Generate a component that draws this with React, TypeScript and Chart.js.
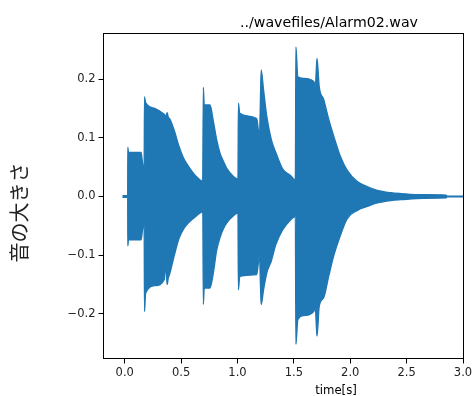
import React, { useEffect, useRef } from "react";
import { Chart, registerables } from "chart.js";

Chart.register(...registerables);

const TITLE = "../wavefiles/Alarm02.wav";
const X_LABEL = "time[s]";
const Y_LABEL = "音の大きさ";

const X_TICKS = [0, 0.5, 1, 1.5, 2, 2.5, 3];
const Y_TICKS = [-0.2, -0.1, 0, 0.1, 0.2];

// envelope of the waveform (time in s, upper and lower amplitude)
const TIME = [
  -0.02, 0.026, 0.027, 0.033, 0.145, 0.16, 0.172,
  0.175, 0.185, 0.27, 0.35, 0.365, 0.376, 0.385, 0.4, 0.44, 0.48, 0.52, 0.57, 0.63, 0.692,
  0.697, 0.705, 0.756, 0.786, 0.815, 0.845, 0.875, 0.905, 0.964, 1.004,
  1.008, 1.02, 1.17, 1.195, 1.21, 1.231, 1.26, 1.3, 1.34, 1.4, 1.47, 1.513,
  1.518, 1.535, 1.587, 1.676, 1.69, 1.705, 1.725, 1.765, 1.81, 1.855, 1.913, 1.972,
  2.06, 2.15, 2.24, 2.36, 2.45, 2.65, 2.85, 2.855, 3.05,
];
const UPPER = [
  0.0015, 0.0015, 0.084, 0.075, 0.075, 0.054, 0.05,
  0.17, 0.16, 0.15, 0.14, 0.137, 0.143, 0.136, 0.132, 0.112, 0.086, 0.066, 0.05, 0.035, 0.026,
  0.186, 0.156, 0.156, 0.128, 0.097, 0.074, 0.06, 0.048, 0.034, 0.03,
  0.159, 0.142, 0.133, 0.102, 0.216, 0.182, 0.136, 0.097, 0.075, 0.047, 0.036, 0.028,
  0.255, 0.204, 0.2015, 0.196, 0.188, 0.2355, 0.187, 0.165, 0.131, 0.102, 0.068, 0.045,
  0.026, 0.017, 0.0105, 0.0065, 0.005, 0.003, 0.0025, 0.0007, 0.0007,
];
const LOWER = [
  -0.0015, -0.0015, -0.084, -0.074, -0.074, -0.054, -0.05,
  -0.196, -0.165, -0.152, -0.142, -0.117, -0.15, -0.14, -0.131, -0.1, -0.072, -0.056, -0.044, -0.034, -0.026,
  -0.184, -0.156, -0.156, -0.13, -0.092, -0.07, -0.055, -0.045, -0.033, -0.028,
  -0.159, -0.136, -0.133, -0.102, -0.184, -0.159, -0.13, -0.11, -0.082, -0.057, -0.04, -0.034,
  -0.252, -0.21, -0.203, -0.196, -0.19, -0.238, -0.187, -0.172, -0.135, -0.1, -0.066, -0.038,
  -0.024, -0.017, -0.011, -0.007, -0.0055, -0.003, -0.0025, -0.0007, -0.0007,
];

const BLUE = "#1f77b4";
const FONT = "'DejaVu Sans', sans-serif";
const JP_FONT = "'Noto Sans CJK JP', sans-serif";

const fmt = (v: number) => {
  const s = Math.abs(v) < 1e-9 ? "0.0" : v.toFixed(1);
  return s.replace("-", "\u2212");
};

export default function App() {
  const ref = useRef<HTMLCanvasElement | null>(null);

  useEffect(() => {
    const canvas = ref.current;
    if (!canvas) return;

    const decor = {
      id: "decor",
      afterDraw(chart: any) {
        const { ctx, chartArea: a } = chart;
        ctx.save();
        ctx.strokeStyle = "#000";
        ctx.lineWidth = 1;
        ctx.strokeRect(
          Math.round(a.left) + 0.5,
          Math.round(a.top) - 0.5,
          Math.round(a.right - a.left),
          Math.round(a.bottom - a.top)
        );
        ctx.fillStyle = "#000";
        ctx.textAlign = "center";
        ctx.textBaseline = "alphabetic";
        ctx.font = `14.2px ${FONT}`;
        ctx.fillText(TITLE, 329, 26.5);
        ctx.font = `11.7px ${FONT}`;
        ctx.fillText(X_LABEL, 336, 394);
        ctx.translate(19, 212.5);
        ctx.rotate(-Math.PI / 2);
        ctx.textBaseline = "middle";
        ctx.fillStyle = "#222";
        ctx.font = `20px ${JP_FONT}`;
        ctx.fillText(Y_LABEL, 0, 0);
        ctx.restore();
      },
    };

    const tickFont = { family: FONT, size: 11.5 };
    const lineCommon = {
      borderColor: BLUE,
      borderWidth: 1.3,
      pointRadius: 0,
      cubicInterpolationMode: "monotone",
    };

    const chart = new Chart(canvas, {
      type: "line",
      data: {
        datasets: [
          {
            ...lineCommon,
            data: TIME.map((t, i) => ({ x: t, y: UPPER[i] })),
            fill: false,
          },
          {
            ...lineCommon,
            data: TIME.map((t, i) => ({ x: t, y: LOWER[i] })),
            backgroundColor: BLUE,
            fill: "-1",
          },
        ],
      },
      options: {
        animation: false,
        responsive: false,
        events: [],
        layout: { padding: { top: 34, right: 9, left: 0, bottom: 0 } },
        plugins: {
          legend: { display: false },
          tooltip: { enabled: false },
          title: { display: false },
        },
        scales: {
          x: {
            type: "linear",
            min: -0.193,
            max: 3.0,
            afterBuildTicks: (s: any) => {
              s.ticks = X_TICKS.map((v) => ({ value: v }));
            },
            afterFit: (s: any) => {
              s.height = 37;
              s.paddingLeft = 0;
              s.paddingRight = 0;
            },
            ticks: {
              callback: (v: any) => fmt(Number(v)),
              font: tickFont,
              color: "#222",
              padding: 3,
              maxRotation: 0,
              autoSkip: false,
            },
            grid: {
              drawOnChartArea: false,
              drawTicks: true,
              tickLength: 4.5,
              color: "#000",
              lineWidth: 1,
            },
            border: { display: false },
          },
          y: {
            type: "linear",
            min: -0.277,
            max: 0.277,
            afterBuildTicks: (s: any) => {
              s.ticks = Y_TICKS.map((v) => ({ value: v }));
            },
            afterFit: (s: any) => {
              s.width = 103;
              s.paddingTop = 0;
              s.paddingBottom = 0;
            },
            ticks: {
              callback: (v: any) => fmt(Number(v)),
              font: tickFont,
              color: "#222",
              padding: 3,
              autoSkip: false,
            },
            grid: {
              drawOnChartArea: false,
              drawTicks: true,
              tickLength: 4.5,
              color: "#000",
              lineWidth: 1,
            },
            border: { display: false },
          },
        },
      },
      plugins: [decor],
    } as any);

    return () => chart.destroy();
  }, []);

  return (
    <div style={{ position: "fixed", left: 0, top: 0, width: 472, height: 396, background: "#fff" }}>
      <canvas ref={ref} width={472} height={396} style={{ display: "block" }} />
    </div>
  );
}
